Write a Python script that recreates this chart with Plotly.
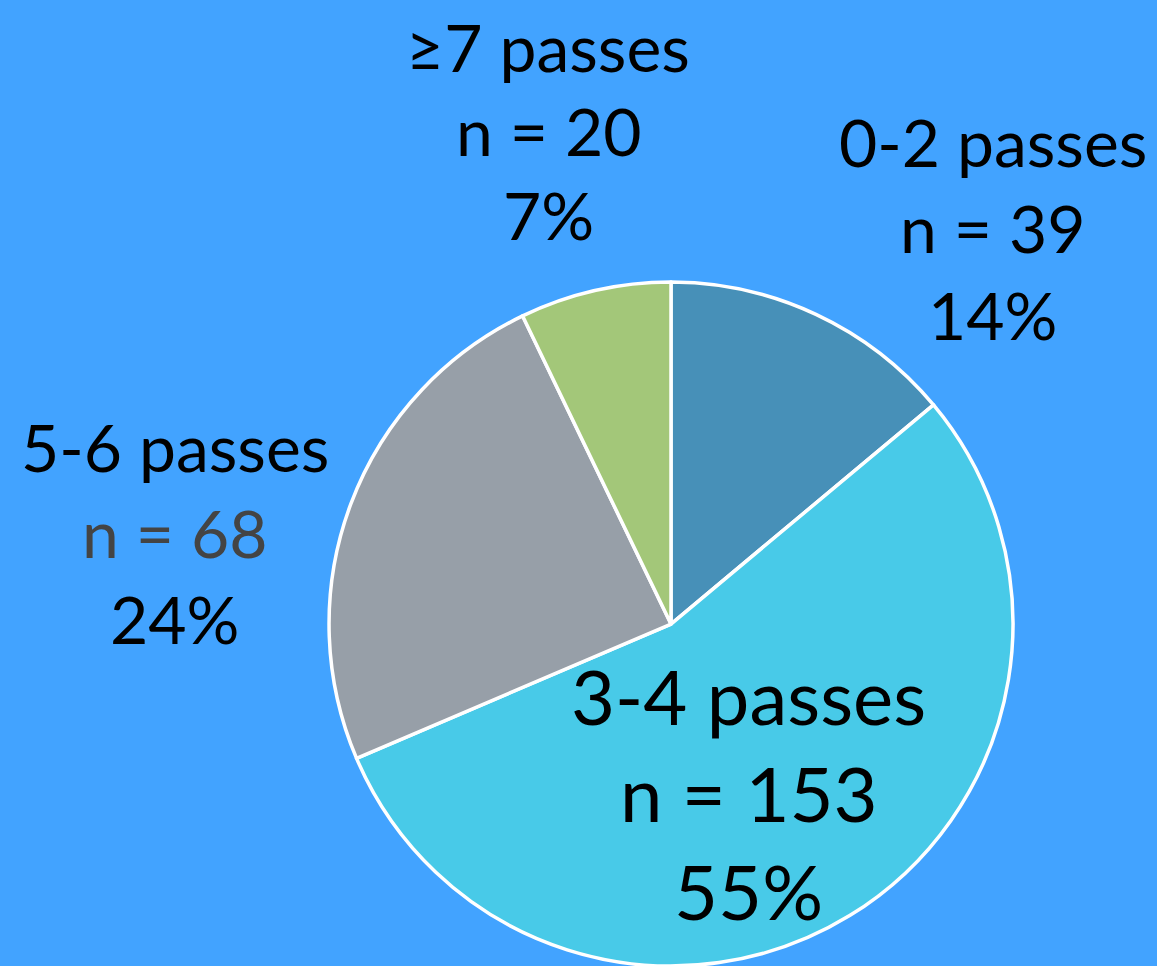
import plotly.graph_objects as go

# Number of passes per sequence
categories = ["0-2 passes", "3-4 passes", "5-6 passes", "≥7 passes"]
counts = [39, 153, 68, 20]
colors = ["#4790B8", "#48CAE8", "#979FA8", "#A3C779"]

BG = "#42A3FF"
FONT = "Lato, 'Noto Sans', sans-serif"

total = sum(counts)
pcts = [round(100 * c / total) for c in counts]

fig = go.Figure(
    go.Pie(
        labels=categories,
        values=counts,
        sort=False,
        direction="clockwise",
        rotation=0,
        marker=dict(colors=colors, line=dict(color="white", width=3.5)),
        textinfo="none",
        hoverinfo="label+value+percent",
        domain=dict(x=[0.2826, 0.8773], y=[0.0, 0.708]),
        showlegend=False,
    )
)

# Label blocks: (category index, x centre, first-line y, line spacing, font size, colour per line)
label_specs = [
    (0, 0.858, 0.854, 0.090, 66, ["black", "black", "black"]),
    (1, 0.647, 0.2805, 0.1014, 76, ["black", "black", "black"]),
    (2, 0.151, 0.538, 0.089, 66, ["black", "#444444", "black"]),
    (3, 0.474, 0.952, 0.087, 66, ["black", "black", "black"]),
]

annotations = []
for idx, xc, y0, dy, size, line_colors in label_specs:
    lines = [categories[idx], f"n = {counts[idx]}", f"{pcts[idx]}%"]
    for k, (txt, col) in enumerate(zip(lines, line_colors)):
        annotations.append(
            dict(
                text=txt,
                x=xc,
                y=y0 - k * dy,
                xref="paper",
                yref="paper",
                xanchor="center",
                yanchor="middle",
                showarrow=False,
                font=dict(family=FONT, size=size, color=col),
            )
        )

fig.update_layout(
    width=1157,
    height=966,
    margin=dict(l=0, r=0, t=0, b=0),
    paper_bgcolor=BG,
    plot_bgcolor=BG,
    annotations=annotations,
)

fig.write_html("out.html")
